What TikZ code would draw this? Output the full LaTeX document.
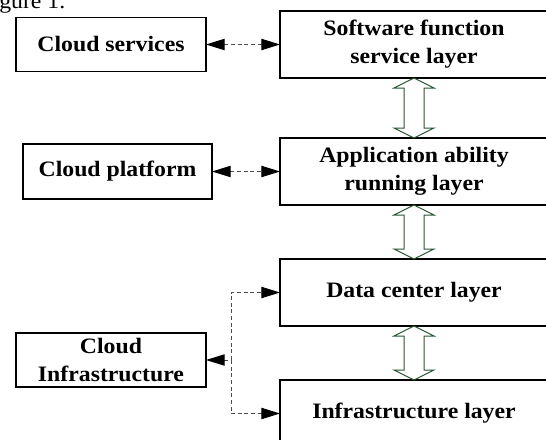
\documentclass[tikz,border=0pt]{standalone}
\usepackage{fontspec}
\setmainfont{Liberation Serif}[FakeStretch=1.08]
\usepackage{tikz}
\usetikzlibrary{arrows.meta,calc}
\definecolor{arrowgreen}{RGB}{40,88,52}

\begin{document}
\begin{tikzpicture}[x=0.75pt,y=-0.75pt,
		box/.style={draw,line width=0.8pt,inner sep=0pt,outer sep=0pt,align=center,
			font=\fontsize{16.5pt}{21pt}\selectfont\bfseries},
		layer/.style={box,minimum width=201pt,minimum height=50.25pt},
		cloud/.style={box,minimum width=142.5pt,minimum height=40.5pt},
		link/.style={draw=black!70,line width=0.75pt,dash pattern=on 3pt off 2pt,
			>={Triangle[length=14pt,width=8.5pt,color=black]}},
		twoway/.style={draw=arrowgreen,line width=0.75pt,line join=miter}]
	\clip (0,0) rectangle (546,439);
	\node [anchor=base east,font=\fontsize{16.5pt}{21pt}\selectfont] (cap) at (70,8) {Figure 1.};

	\node [layer] (sw) at (414,44.5) {Software function\\service layer};
	\node [layer] (app) at (414,171.5) {Application ability\\running layer};
	\node [layer] (dc) at (414,292.5) {Data center layer};
	\node [layer] (infra) at (414,413.5) {Infrastructure layer};

	\node [cloud] (csv) at (111,44.5) {Cloud services};
	\node [cloud,minimum width=141.75pt,minimum height=41.25pt] (cpf) at (117.5,171.5) {Cloud platform};
	\node [cloud] (cinf) at (111,360) {Cloud\\Infrastructure};

	\foreach \a/\b in {sw/app,app/dc,dc/infra}
		\draw [twoway] (\a.south) -- ++(20,10) -- ++(-10,0) -- ($(\b.north)+(10,-10)$) -- ++(10,0)
			-- (\b.north) -- ++(-20,-10) -- ++(10,0) -- ($(\a.south)+(-10,10)$) -- ++(-10,0) -- cycle;

	\draw [link,<->] (csv) -- (sw.west |- csv);
	\draw [link,<->] (cpf) -- (app.west |- cpf);
	\coordinate (split) at (231,360);
	\draw [link,<-] (cinf.east) -- (split);
	\draw [link,->] (split) |- (dc.west);
	\draw [link,->] (split) |- (infra.west);
\end{tikzpicture}
\end{document}
